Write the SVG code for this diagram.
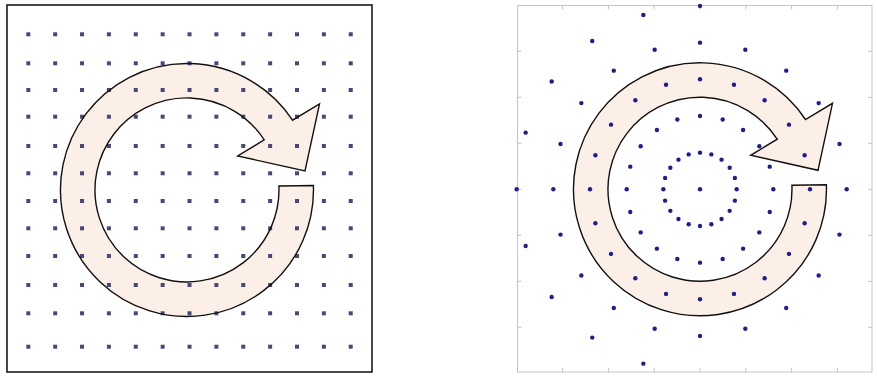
<svg xmlns="http://www.w3.org/2000/svg" xmlns:xlink="http://www.w3.org/1999/xlink" width="877" height="376" viewBox="0 0 877 376">
<style>
.frame{fill:none;stroke:#1a1a1a;stroke-width:1.6}
.axes{fill:none;stroke:#c4c4c4;stroke-width:1}
.tick{stroke:#c4c4c4;stroke-width:1}
.sq{fill:#474778}
.dot{fill:#1e1e8e}
.afill{fill:#fcefe7;stroke:none}
.aline{fill:none;stroke:#111;stroke-width:1.4;stroke-linejoin:miter}
</style>
<defs>
<path id="arrow" d="M126.4 -4.5 A126.5 126.5 0 1 1 105.5 -69.8 L132.5 -86 L118 -19 L50.7 -34 L77.2 -50.1 A92 92 0 1 0 91.9 -4 Z"/>
<g id="row">
<rect class="sq" x="26.3" y="-2" width="4" height="4"/>
<rect class="sq" x="53.17" y="-2" width="4" height="4"/>
<rect class="sq" x="80.04" y="-2" width="4" height="4"/>
<rect class="sq" x="106.91" y="-2" width="4" height="4"/>
<rect class="sq" x="133.78" y="-2" width="4" height="4"/>
<rect class="sq" x="160.65" y="-2" width="4" height="4"/>
<rect class="sq" x="187.52" y="-2" width="4" height="4"/>
<rect class="sq" x="214.39" y="-2" width="4" height="4"/>
<rect class="sq" x="241.26" y="-2" width="4" height="4"/>
<rect class="sq" x="268.13" y="-2" width="4" height="4"/>
<rect class="sq" x="295" y="-2" width="4" height="4"/>
<rect class="sq" x="321.87" y="-2" width="4" height="4"/>
<rect class="sq" x="348.74" y="-2" width="4" height="4"/>
</g>
<g id="quarter">
<circle class="dot" cx="36.67" cy="0" r="2.2"/>
<circle class="dot" cx="34.88" cy="11.33" r="2.2"/>
<circle class="dot" cx="29.67" cy="21.55" r="2.2"/>
<circle class="dot" cx="21.55" cy="29.67" r="2.2"/>
<circle class="dot" cx="11.33" cy="34.88" r="2.2"/>
<circle class="dot" cx="73.33" cy="0" r="2.2"/>
<circle class="dot" cx="69.74" cy="22.66" r="2.2"/>
<circle class="dot" cx="59.33" cy="43.10" r="2.2"/>
<circle class="dot" cx="43.10" cy="59.33" r="2.2"/>
<circle class="dot" cx="22.66" cy="69.74" r="2.2"/>
<circle class="dot" cx="110" cy="0" r="2.2"/>
<circle class="dot" cx="104.62" cy="33.99" r="2.2"/>
<circle class="dot" cx="88.99" cy="64.66" r="2.2"/>
<circle class="dot" cx="64.66" cy="88.99" r="2.2"/>
<circle class="dot" cx="33.99" cy="104.62" r="2.2"/>
<circle class="dot" cx="146.67" cy="0" r="2.2"/>
<circle class="dot" cx="139.49" cy="45.32" r="2.2"/>
<circle class="dot" cx="118.66" cy="86.21" r="2.2"/>
<circle class="dot" cx="86.21" cy="118.66" r="2.2"/>
<circle class="dot" cx="45.32" cy="139.49" r="2.2"/>
</g>
</defs>
<rect width="877" height="376" fill="#ffffff"/>

<g id="left-panel">
<rect class="frame" x="7" y="5" width="365" height="367"/>
<use href="#arrow" class="afill" transform="translate(187,190)"/>
<g id="grid">
<use href="#row" transform="translate(0,34.3)"/>
<use href="#row" transform="translate(0,63.3)"/>
<use href="#row" transform="translate(0,90)"/>
<use href="#row" transform="translate(0,116.7)"/>
<use href="#row" transform="translate(0,146)"/>
<use href="#row" transform="translate(0,173.3)"/>
<use href="#row" transform="translate(0,201)"/>
<use href="#row" transform="translate(0,228.3)"/>
<use href="#row" transform="translate(0,256)"/>
<use href="#row" transform="translate(0,285)"/>
<use href="#row" transform="translate(0,313.3)"/>
<use href="#row" transform="translate(0,346.7)"/>
</g>
<use href="#arrow" class="aline" transform="translate(187,190)"/>
</g>

<g id="right-panel">
<rect class="axes" x="517.5" y="5.5" width="354.5" height="366.5"/>
<g id="ticks">
<path class="tick" d="M562.6 372v-4M608.4 372v-4M654.2 372v-4M700 372v-4M745.8 372v-4M791.6 372v-4M837.4 372v-4"/>
<path class="tick" d="M562.6 5.5v4M608.4 5.5v4M654.2 5.5v4M700 5.5v4M745.8 5.5v4M791.6 5.5v4M837.4 5.5v4"/>
<path class="tick" d="M517.5 51.3h4M517.5 97.3h4M517.5 143.3h4M517.5 189.3h4M517.5 235.3h4M517.5 281.3h4M517.5 327.3h4"/>
<path class="tick" d="M872 51.3h-4M872 97.3h-4M872 143.3h-4M872 189.3h-4M872 235.3h-4M872 281.3h-4M872 327.3h-4"/>
</g>
<use href="#arrow" class="afill" transform="translate(700,189.3)"/>
<g id="rings">
<circle class="dot" cx="700" cy="189.3" r="2.2"/>
<use href="#quarter" transform="translate(700,189.3)"/>
<use href="#quarter" transform="translate(700,189.3) rotate(90)"/>
<use href="#quarter" transform="translate(700,189.3) rotate(180)"/>
<use href="#quarter" transform="translate(700,189.3) rotate(270)"/>
<circle class="dot" cx="700" cy="6" r="2.2"/>
<circle class="dot" cx="643.35" cy="14.94" r="2.2"/>
<circle class="dot" cx="592.24" cy="40.98" r="2.2"/>
<circle class="dot" cx="551.68" cy="81.54" r="2.2"/>
<circle class="dot" cx="525.64" cy="132.65" r="2.2"/>
<circle class="dot" cx="516.67" cy="189.3" r="2.2"/>
<circle class="dot" cx="525.64" cy="245.95" r="2.2"/>
<circle class="dot" cx="551.68" cy="297.06" r="2.2"/>
<circle class="dot" cx="592.24" cy="337.62" r="2.2"/>
<circle class="dot" cx="643.35" cy="363.66" r="2.2"/>
</g>
<use href="#arrow" class="aline" transform="translate(700,189.3)"/>
</g>
</svg>
